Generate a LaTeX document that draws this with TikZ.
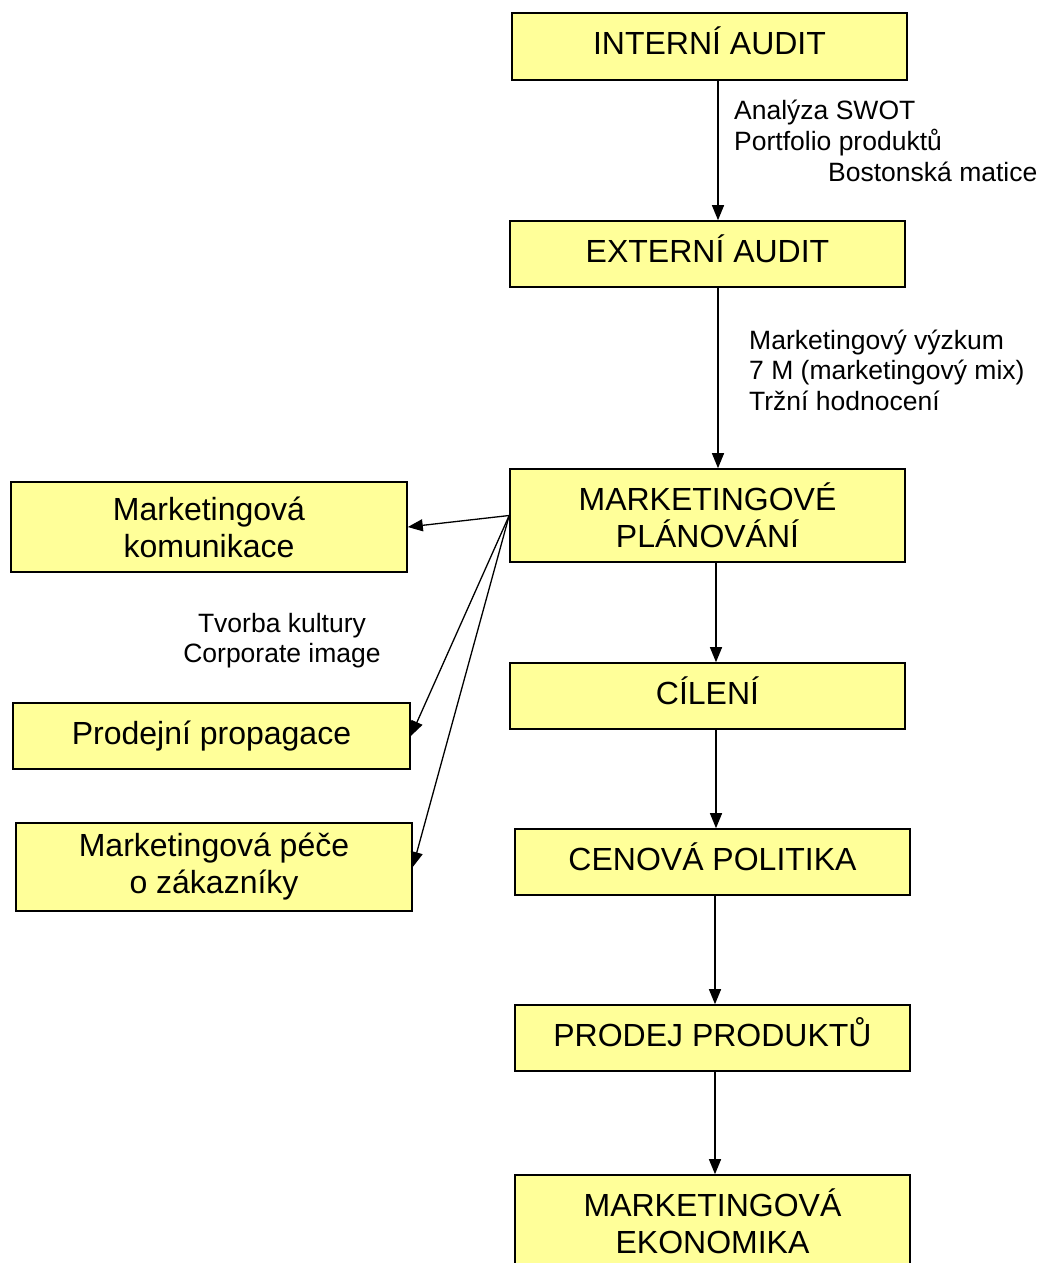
\documentclass[tikz,border=0pt]{standalone}
\usepackage{fontspec}
\setmainfont{Liberation Sans}
\usetikzlibrary{arrows.meta}
\definecolor{boxyellow}{HTML}{FFFF99}
\tikzset{
  box/.style={draw=black, line width=1.6pt, fill=boxyellow, minimum width=395pt, inner sep=0pt, align=center, font=\fontsize{32}{37}\selectfont},
  oneline/.style={text height=20pt, text depth=4pt},
  arr/.style={line width=1.3pt, -{Triangle[length=15pt,width=12pt]}},
  lbl/.style={inner sep=0pt, font=\fontsize{26.5}{31}\selectfont, anchor=base west},
  lblc/.style={inner sep=0pt, font=\fontsize{26.5}{31}\selectfont, anchor=base}
}
\begin{document}
\begin{tikzpicture}[x=1pt,y=-1pt]
\useasboundingbox (0,0) rectangle (1042,1263);
% main column
\node[box, oneline, minimum height=67pt] (ia) at (709.5,46.5) {INTERNÍ AUDIT};
\node[box, oneline, minimum height=66pt] (ea) at (707.5,254) {EXTERNÍ AUDIT};
\node[box, minimum height=93pt] (mp) at (707.5,515.5) {MARKETINGOVÉ\\PLÁNOVÁNÍ};
\node[box, oneline, minimum height=66pt] (ci) at (707.5,696) {CÍLENÍ};
\node[box, oneline, minimum height=66pt] (cp) at (712.5,862) {CENOVÁ POLITIKA};
\node[box, oneline, minimum height=66pt] (pr) at (712.5,1038) {PRODEJ PRODUKTŮ};
\node[box, minimum height=92pt] (me) at (712.5,1221) {MARKETINGOVÁ\\EKONOMIKA};
% left column
\node[box, minimum width=396pt, minimum height=90pt] (mk) at (209,527) {Marketingová\\komunikace};
\node[box, oneline, minimum width=397pt, minimum height=66pt] (pp) at (211.5,736) {Prodejní propagace};
\node[box, minimum width=396pt, minimum height=88pt] (pz) at (214,867) {Marketingová péče\\o zákazníky};
% arrow x positions
\coordinate (x1) at (718,0);
\coordinate (x2) at (716,0);
\coordinate (x3) at (715,0);
\draw[arr] (ia.south -| x1) -- (ea.north -| x1);
\draw[arr] (ea.south -| x1) -- (mp.north -| x1);
\draw[arr] (mp.south -| x2) -- (ci.north -| x2);
\draw[arr] (ci.south -| x2) -- (cp.north -| x2);
\draw[arr] (cp.south -| x3) -- (pr.north -| x3);
\draw[arr] (pr.south -| x3) -- (me.north -| x3);
\draw[arr] (mp.west) -- (mk.east);
\draw[arr] (mp.west) -- (pp.east);
\draw[arr] (mp.west) -- (pz.east);
% labels
\node[lbl] (l1) at (734,119) {Analýza SWOT};
\node[lbl] (l2) at (734,150) {Portfolio produktů};
\node[lbl] (l3) at (828,181) {Bostonská matice};
\node[lbl] (l4) at (749,349) {Marketingový výzkum};
\node[lbl] (l5) at (749,379) {7 M (marketingový mix)};
\node[lbl] (l6) at (749,410) {Tržní hodnocení};
\node[lblc] (l7) at (282,632) {Tvorba kultury};
\node[lblc] (l8) at (282,662) {Corporate image};
\end{tikzpicture}
\end{document}
